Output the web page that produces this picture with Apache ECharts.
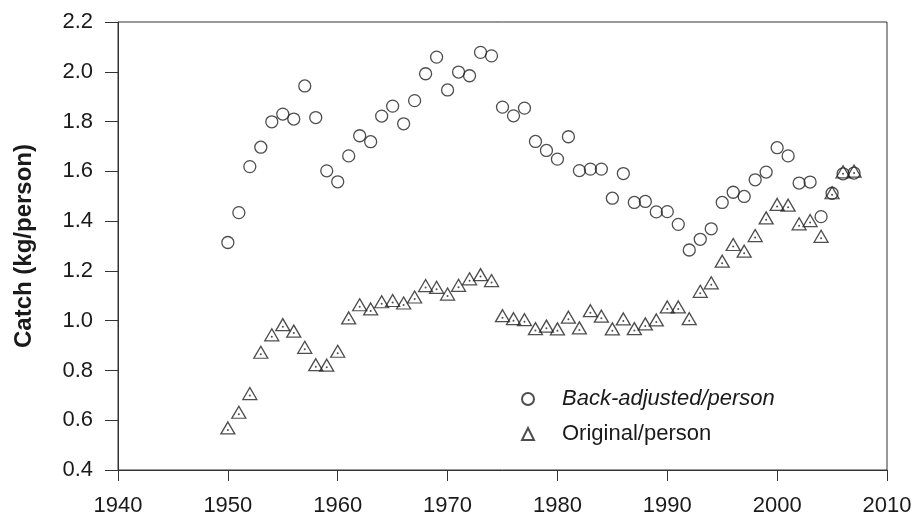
<!DOCTYPE html>
<html>
<head>
<meta charset="utf-8">
<script src="https://cdn.jsdelivr.net/npm/echarts@6/dist/echarts.min.js"></script>
<style>html,body{margin:0;padding:0;background:#fff;}#c{width:914px;height:515px;}</style>
</head>
<body>
<div id="c"></div>
<script>
var years = [1950,1951,1952,1953,1954,1955,1956,1957,1958,1959,
             1960,1961,1962,1963,1964,1965,1966,1967,1968,1969,
             1970,1971,1972,1973,1974,1975,1976,1977,1978,1979,
             1980,1981,1982,1983,1984,1985,1986,1987,1988,1989,
             1990,1991,1992,1993,1994,1995,1996,1997,1998,1999,
             2000,2001,2002,2003,2004,2005,2006,2007];
var backAdjusted = [1.314,1.434,1.619,1.697,1.799,1.830,1.810,1.943,1.816,1.602,
                    1.558,1.662,1.743,1.719,1.822,1.862,1.791,1.884,1.992,2.059,
                    1.927,1.999,1.984,2.078,2.064,1.858,1.823,1.854,1.720,1.684,
                    1.649,1.739,1.603,1.609,1.609,1.492,1.591,1.475,1.479,1.437,
                    1.438,1.387,1.284,1.327,1.369,1.475,1.516,1.499,1.566,1.597,
                    1.695,1.662,1.553,1.557,1.418,1.512,1.590,1.593];
var original = [0.561,0.624,0.699,0.865,0.935,0.976,0.950,0.885,0.815,0.813,
                0.869,1.003,1.056,1.039,1.068,1.073,1.063,1.087,1.133,1.126,
                1.099,1.134,1.160,1.177,1.153,1.012,1.000,0.996,0.960,0.970,
                0.959,1.006,0.963,1.032,1.010,0.959,0.999,0.960,0.979,0.995,
                1.047,1.047,1.000,1.110,1.144,1.231,1.298,1.271,1.334,1.405,
                1.459,1.456,1.381,1.394,1.331,1.506,1.590,1.593];
var seriesNames = ['Back-adjusted/person', 'Original/person'];
var yTitle = 'Catch (kg/person)';

function pairs(xs, ys) { return xs.map(function (x, i) { return [x, ys[i]]; }); }

var chart = echarts.init(document.getElementById('c'));
var font = 'Liberation Sans, Arial, sans-serif';
var lineColor = '#333';
var textColor = '#1a1a1a';
chart.setOption({
  animation: false,
  backgroundColor: '#fff',
  grid: { left: 118, right: 27, top: 22, bottom: 45, outerBoundsMode: 'none', containLabel: false,
    show: true, borderColor: lineColor, borderWidth: 1, backgroundColor: 'transparent' },
  xAxis: {
    type: 'value', min: 1940, max: 2010, interval: 10,
    axisLine: { show: true, lineStyle: { color: lineColor, width: 1 } },
    axisTick: { show: true, length: 11, inside: false, lineStyle: { color: lineColor, width: 1 } },
    axisLabel: { margin: 25, fontSize: 22, color: textColor, fontFamily: font,
      formatter: function (v) { return String(v); } },
    splitLine: { show: false }
  },
  yAxis: {
    type: 'value', min: 0.4, max: 2.2, interval: 0.2,
    name: yTitle, nameLocation: 'middle', nameGap: 82,
    nameTextStyle: { fontSize: 24, fontWeight: 'bold', color: textColor, fontFamily: font },
    axisLine: { show: true, lineStyle: { color: lineColor, width: 1 } },
    axisTick: { show: true, length: 13, inside: false, lineStyle: { color: lineColor, width: 1 } },
    axisLabel: { margin: 25, fontSize: 22, color: textColor, fontFamily: font,
      formatter: function (v) { return v.toFixed(1); } },
    splitLine: { show: false }
  },
  legend: {
    orient: 'vertical', left: 516, top: 383, itemWidth: 12, itemHeight: 12, itemGap: 13,
    data: seriesNames,
    formatter: function (n) { return n === seriesNames[0] ? '{i|' + n + '}' : n; },
    textStyle: { fontSize: 22, color: textColor, fontFamily: font, padding: [0, 0, 0, 23],
      rich: { i: { fontStyle: 'italic', fontSize: 22, color: textColor, fontFamily: font } } }
  },
  series: [
    {
      name: seriesNames[0], type: 'scatter', symbol: 'circle', symbolSize: 12,
      itemStyle: { color: 'rgba(255,255,255,0)', borderColor: '#222', borderWidth: 1.3 },
      data: pairs(years, backAdjusted), z: 3
    },
    {
      name: seriesNames[1], type: 'scatter', symbol: 'triangle', symbolSize: [14, 12], symbolOffset: [0, -2],
      itemStyle: { color: 'rgba(255,255,255,0)', borderColor: '#222', borderWidth: 1.3 },
      data: pairs(years, original), z: 4
    },
    {
      name: 'dots', type: 'scatter', symbol: 'circle', symbolSize: 2,
      itemStyle: { color: '#222' }, data: pairs(years, original), z: 5, silent: true
    }
  ]
});
</script>
</body>
</html>
